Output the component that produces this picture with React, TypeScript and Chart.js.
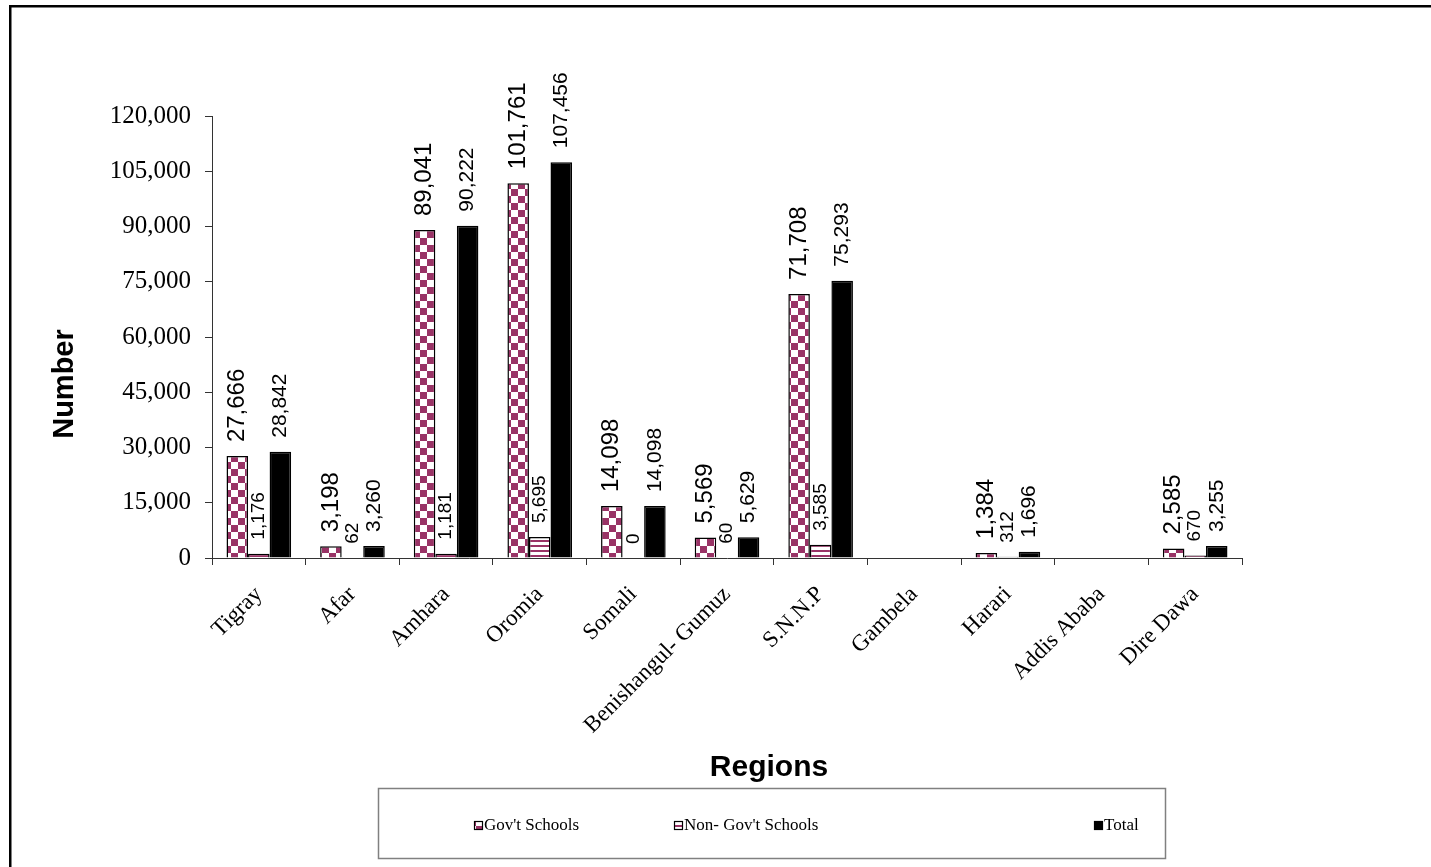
import React, { useEffect, useRef } from "react";
import { Chart, registerables } from "chart.js";

Chart.register(...registerables);

const categories = [
  "Tigray",
  "Afar",
  "Amhara",
  "Oromia",
  "Somali",
  "Benishangul- Gumuz",
  "S.N.N.P",
  "Gambela",
  "Harari",
  "Addis Ababa",
  "Dire Dawa",
];

const govSchools: (number | null)[] = [27666, 3198, 89041, 101761, 14098, 5569, 71708, null, 1384, null, 2585];
const nonGovSchools: (number | null)[] = [1176, 62, 1181, 5695, 0, 60, 3585, null, 312, null, 670];
const totalSchools: (number | null)[] = [28842, 3260, 90222, 107456, 14098, 5629, 75293, null, 1696, null, 3255];

const seriesNames = ["Gov't Schools", "Non- Gov't Schools", "Total"];
const yTicks = [0, 15000, 30000, 45000, 60000, 75000, 90000, 105000, 120000];
const xTitle = "Regions";
const yTitle = "Number";

const MAROON = "#993366";
const SERIF = '"Liberation Serif", "Times New Roman", Times, serif';
const SANS = '"Liberation Sans", Arial, Helvetica, sans-serif';

function makeChecker(ctx: CanvasRenderingContext2D): CanvasPattern | string {
  const c = document.createElement("canvas");
  c.width = 14;
  c.height = 14;
  const g = c.getContext("2d")!;
  g.fillStyle = "#ffffff";
  g.fillRect(0, 0, 14, 14);
  g.fillStyle = MAROON;
  g.fillRect(0, 0, 7, 7);
  g.fillRect(7, 7, 7, 7);
  return ctx.createPattern(c, "repeat") || MAROON;
}

function makeStripes(ctx: CanvasRenderingContext2D): CanvasPattern | string {
  const c = document.createElement("canvas");
  c.width = 5;
  c.height = 5;
  const g = c.getContext("2d")!;
  g.fillStyle = "#ffffff";
  g.fillRect(0, 0, 5, 5);
  g.fillStyle = MAROON;
  g.fillRect(0, 0, 5, 2);
  return ctx.createPattern(c, "repeat") || "#ffffff";
}

const fmt = (v: number) => v.toLocaleString("en-US");

export default function App() {
  const ref = useRef<HTMLCanvasElement | null>(null);

  useEffect(() => {
    const canvas = ref.current!;
    const ctx = canvas.getContext("2d")!;
    const checker = makeChecker(ctx);
    const stripes = makeStripes(ctx);
    const fills = [checker, stripes, "#000000"];
    const labelSizes = [24, 19, 21];

    const background = {
      id: "background",
      beforeDraw(chart: any) {
        const c = chart.ctx;
        c.save();
        c.fillStyle = "#ffffff";
        c.fillRect(0, 0, chart.width, chart.height);
        c.fillStyle = "#000000";
        c.fillRect(9, 5, chart.width, 2.5);
        c.fillRect(9, 5, 2.5, chart.height);
        c.restore();
      },
    };

    const labels = {
      id: "barLabels",
      afterDatasetsDraw(chart: any) {
        const c = chart.ctx;
        chart.data.datasets.forEach((ds: any, di: number) => {
          const meta = chart.getDatasetMeta(di);
          meta.data.forEach((el: any, i: number) => {
            const v = ds.data[i];
            if (v === null || v === undefined) return;
            c.save();
            c.translate(el.x, el.y - 14);
            c.rotate(-Math.PI / 2);
            c.font = labelSizes[di] + "px " + SANS;
            c.fillStyle = "#000000";
            c.textAlign = "left";
            c.textBaseline = "middle";
            c.fillText(fmt(v), 0, 0);
            c.restore();
          });
        });
      },
    };

    const titlesAndLegend = {
      id: "titlesAndLegend",
      afterDraw(chart: any) {
        const c = chart.ctx;
        c.save();
        c.fillStyle = "#000000";
        c.font = "bold 30px " + SANS;
        c.textAlign = "center";
        c.textBaseline = "middle";
        c.fillText(xTitle, 769, 768);
        c.save();
        c.translate(65, 384);
        c.rotate(-Math.PI / 2);
        c.font = "bold 29px " + SANS;
        c.fillText(yTitle, 0, 0);
        c.restore();

        c.strokeStyle = "#808080";
        c.lineWidth = 1.5;
        c.strokeRect(378.5, 788.5, 787, 70);
        const items = [
          { x: 474, fill: fills[0] },
          { x: 674, fill: fills[1] },
          { x: 1094, fill: fills[2] },
        ];
        items.forEach((it, i) => {
          c.fillStyle = it.fill as any;
          c.fillRect(it.x, 821, 9, 9);
          c.strokeStyle = "#000000";
          c.lineWidth = 1.2;
          c.strokeRect(it.x + 0.5, 821.5, 8, 8);
          c.fillStyle = "#000000";
          c.font = "17px " + SERIF;
          c.textAlign = "left";
          c.textBaseline = "middle";
          c.fillText(seriesNames[i], it.x + 10, 826);
        });
        c.restore();
      },
    };

    const chart = new Chart(canvas, {
      type: "bar",
      data: {
        labels: categories,
        datasets: [govSchools, nonGovSchools, totalSchools].map((d, i) => ({
          label: seriesNames[i],
          data: d,
          backgroundColor: fills[i] as any,
          borderColor: "#000000",
          borderWidth: 1.5,
          borderSkipped: "bottom",
          categoryPercentage: 0.69,
          barPercentage: 1.0,
        })),
      },
      options: {
        animation: false,
        responsive: false,
        maintainAspectRatio: false,
        layout: { padding: { top: 116, right: 189, bottom: 78, left: 45 } },
        plugins: {
          legend: { display: false },
          tooltip: { enabled: false },
        },
        scales: {
          x: {
            offset: true,
            grid: {
              display: true,
              offset: true,
              drawOnChartArea: false,
              drawTicks: true,
              tickLength: 7,
              color: "#333333",
            },
            border: { display: true, color: "#333333", width: 1 },
            ticks: {
              minRotation: 45,
              maxRotation: 45,
              padding: 16,
              color: "#000000",
              font: { family: SERIF, size: 23 },
              autoSkip: false,
            },
            title: { display: false },
            afterFit(scale: any) {
              scale.height = 231;
            },
          },
          y: {
            min: 0,
            max: 120000,
            afterBuildTicks(scale: any) {
              scale.ticks = yTicks.map((v) => ({ value: v }));
            },
            grid: {
              display: true,
              drawOnChartArea: false,
              drawTicks: true,
              tickLength: 7,
              color: "#333333",
            },
            border: { display: true, color: "#333333", width: 1 },
            ticks: {
              padding: 14,
              color: "#000000",
              font: { family: SERIF, size: 25 },
              callback: (v: any) => fmt(Number(v)),
            },
            title: { display: false },
            afterFit(scale: any) {
              scale.width = 167;
            },
          },
        },
      },
      plugins: [background, labels, titlesAndLegend],
    });

    return () => chart.destroy();
  }, []);

  return (
    <div style={{ position: "fixed", left: 0, top: 0, width: 1431, height: 867 }}>
      <canvas ref={ref} width={1431} height={867} style={{ display: "block", width: 1431, height: 867 }} />
    </div>
  );
}
